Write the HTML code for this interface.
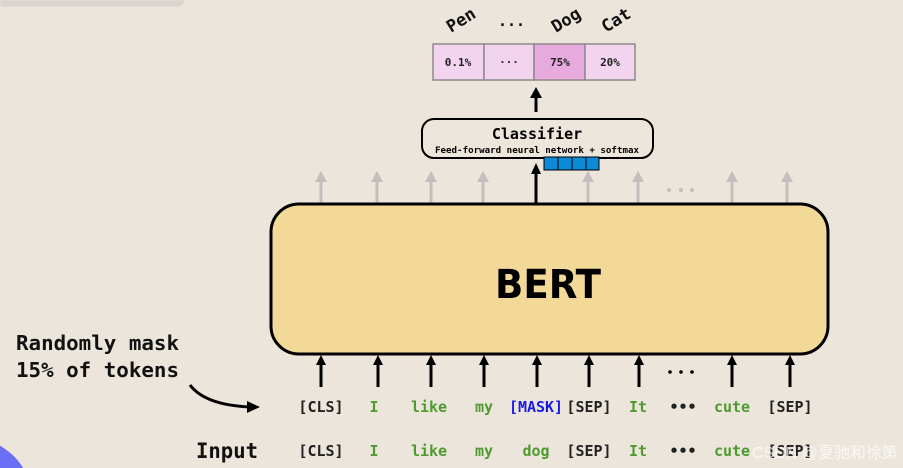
<!DOCTYPE html>
<html><head><meta charset="utf-8"><style>
html,body{margin:0;padding:0;background:#ece5dc;width:903px;height:468px;overflow:hidden;}
svg{display:block}
.m{font-family:"DejaVu Sans Mono","Liberation Mono",monospace;}
</style></head><body>
<svg width="903" height="468" viewBox="0 0 903 468" xmlns="http://www.w3.org/2000/svg">
<rect width="903" height="468" fill="#ece5dc"/>
<path d="M0,0 H184 V0 Q184,7 176,7 H0 Z" fill="#d9d4cd" stroke="#e6e1da" stroke-width="1"/>
<circle cx="-30" cy="500" r="62" fill="#6b6ff5"/>

<!-- output labels -->
<g class="m" font-size="17" font-weight="bold" fill="#111">
<text transform="translate(451,33) rotate(-32)">Pen</text>
<text x="498" y="26" font-size="15">...</text>
<text transform="translate(556,33) rotate(-32)">Dog</text>
<text transform="translate(606,33) rotate(-32)">Cat</text>
</g>
<g stroke="#8d8a8a" stroke-width="1.5">
<rect x="433" y="44" width="51" height="36" fill="#f3d4ee"/>
<rect x="484" y="44" width="50" height="36" fill="#f3d4ee"/>
<rect x="534" y="44" width="51" height="36" fill="#e6aadd"/>
<rect x="585" y="44" width="50" height="36" fill="#f3d4ee"/>
</g>
<g class="m" font-size="11" font-weight="bold" fill="#222" text-anchor="middle">
<text x="458" y="66">0.1%</text><text x="509" y="66">···</text><text x="560" y="66">75%</text><text x="610" y="66">20%</text>
</g>
<line x1="536" y1="112" x2="536" y2="96" stroke="#000" stroke-width="3"/>
<path d="M530,98 L536,87 L542,98Z" fill="#000"/>

<rect x="422" y="119" width="231" height="39" rx="12" fill="#ede6dc" stroke="#000" stroke-width="2"/>
<text class="m" x="537" y="139" font-size="15" font-weight="bold" text-anchor="middle">Classifier</text>
<text class="m" x="537" y="153" font-size="9" font-weight="bold" text-anchor="middle" textLength="204" lengthAdjust="spacingAndGlyphs">Feed-forward neural network + softmax</text>
<g fill="#0d8ad6" stroke="#000" stroke-width="1">
<rect x="544" y="157" width="14" height="13"/><rect x="558" y="157" width="14" height="13"/><rect x="572" y="157" width="14" height="13"/><rect x="586" y="157" width="13" height="13"/>
</g>

<!-- gray arrows -->
<g stroke="#c2bfbc" stroke-width="3">
<line x1="321" y1="205" x2="321" y2="178"/><line x1="377" y1="205" x2="377" y2="178"/><line x1="431" y1="205" x2="431" y2="178"/><line x1="483" y1="205" x2="483" y2="178"/><line x1="588" y1="205" x2="588" y2="178"/><line x1="638" y1="205" x2="638" y2="178"/><line x1="732" y1="205" x2="732" y2="178"/><line x1="787" y1="205" x2="787" y2="178"/>
</g>
<g fill="#c2bfbc">
<path d="M315,182 L321,171 L327,182Z"/><path d="M371,182 L377,171 L383,182Z"/><path d="M425,182 L431,171 L437,182Z"/><path d="M477,182 L483,171 L489,182Z"/><path d="M582,182 L588,171 L594,182Z"/><path d="M632,182 L638,171 L644,182Z"/><path d="M726,182 L732,171 L738,182Z"/><path d="M781,182 L787,171 L793,182Z"/>
<circle cx="669" cy="190" r="2"/><circle cx="681" cy="190" r="2"/><circle cx="692" cy="190" r="2"/>
</g>
<line x1="536" y1="205" x2="536" y2="172" stroke="#000" stroke-width="3"/>
<path d="M531,174 L536,163 L541,174Z" fill="#000"/>

<rect x="271" y="204" width="557" height="150" rx="28" fill="#f2d997" stroke="#000" stroke-width="3"/>
<text x="548" y="298" font-family="DejaVu Sans,Liberation Sans,sans-serif" font-size="40" font-weight="bold" text-anchor="middle" textLength="106" lengthAdjust="spacingAndGlyphs">BERT</text>

<!-- bottom arrows -->
<g stroke="#000" stroke-width="3">
<line x1="321" y1="387" x2="321" y2="362"/><line x1="378" y1="387" x2="378" y2="362"/><line x1="431" y1="387" x2="431" y2="362"/><line x1="484" y1="387" x2="484" y2="362"/><line x1="537" y1="387" x2="537" y2="362"/><line x1="589" y1="387" x2="589" y2="362"/><line x1="639" y1="387" x2="639" y2="362"/><line x1="732" y1="387" x2="732" y2="362"/><line x1="790" y1="387" x2="790" y2="362"/>
</g>
<g fill="#000">
<path d="M316,365 L321,355 L326,365Z"/><path d="M373,365 L378,355 L383,365Z"/><path d="M426,365 L431,355 L436,365Z"/><path d="M479,365 L484,355 L489,365Z"/><path d="M532,365 L537,355 L542,365Z"/><path d="M584,365 L589,355 L594,365Z"/><path d="M634,365 L639,355 L644,365Z"/><path d="M727,365 L732,355 L737,365Z"/><path d="M785,365 L790,355 L795,365Z"/>
<circle cx="670" cy="372" r="1.8"/><circle cx="681" cy="372" r="1.8"/><circle cx="692" cy="372" r="1.8"/>
</g>

<g class="m" font-size="20" font-weight="bold" fill="#111">
<text x="16" y="350" textLength="163" lengthAdjust="spacingAndGlyphs">Randomly mask</text>
<text x="16" y="377" textLength="163" lengthAdjust="spacingAndGlyphs">15% of tokens</text>
<text x="196" y="458" font-size="21" textLength="62" lengthAdjust="spacingAndGlyphs">Input</text>
</g>
<path d="M190,385 Q205,405 250,407" fill="none" stroke="#000" stroke-width="3"/>
<path d="M247,401 L260,407 L247,413Z" fill="#000"/>

<g class="m" font-size="15" font-weight="bold" text-anchor="middle">
<text x="321" y="412" fill="#222">[CLS]</text><text x="374" y="412" fill="#4e9a2e">I</text><text x="429" y="412" fill="#4e9a2e">like</text><text x="484" y="412" fill="#4e9a2e">my</text><text x="536" y="412" fill="#1a1ae6" textLength="54" lengthAdjust="spacingAndGlyphs">[MASK]</text><text x="589" y="412" fill="#222">[SEP]</text><text x="638" y="412" fill="#4e9a2e">It</text><text x="683" y="412" fill="#222">•••</text><text x="732" y="412" fill="#4e9a2e">cute</text><text x="790" y="412" fill="#222">[SEP]</text>
<text x="321" y="456" fill="#222">[CLS]</text><text x="374" y="456" fill="#4e9a2e">I</text><text x="429" y="456" fill="#4e9a2e">like</text><text x="484" y="456" fill="#4e9a2e">my</text><text x="536" y="456" fill="#4e9a2e">dog</text><text x="589" y="456" fill="#222">[SEP]</text><text x="638" y="456" fill="#4e9a2e">It</text><text x="683" y="456" fill="#222">•••</text><text x="732" y="456" fill="#4e9a2e">cute</text><text x="790" y="456" fill="#222">[SEP]</text>
</g>
<text x="752" y="458" font-family="Liberation Sans,Noto Sans CJK SC,sans-serif" font-size="16" fill="#ffffff" fill-opacity="0.7">CSDN @夏驰和徐策</text>
</svg>
</body></html>
